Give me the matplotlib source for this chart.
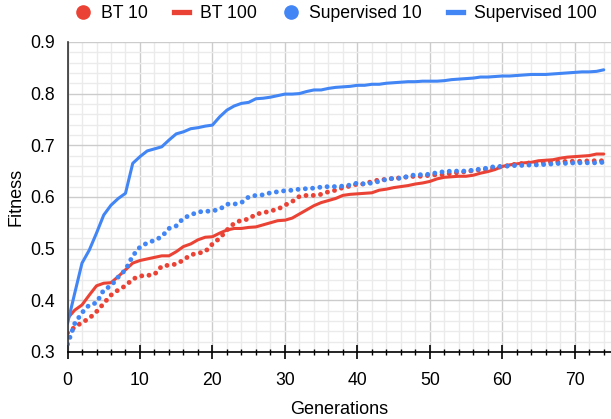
import matplotlib.pyplot as plt
import numpy as np
from matplotlib.lines import Line2D
from matplotlib.ticker import MultipleLocator

plt.rcParams['font.family'] = ['Liberation Sans', 'DejaVu Sans']

# Data (generations 0..74)
generations = np.arange(75)

bt_10 = [0.337, 0.348, 0.357, 0.365, 0.378, 0.394, 0.410, 0.420, 0.428, 0.441,
         0.447, 0.448, 0.450, 0.466, 0.468, 0.470, 0.478, 0.488, 0.491, 0.494,
         0.509, 0.520, 0.536, 0.549, 0.555, 0.557, 0.567, 0.569, 0.573, 0.576,
         0.584, 0.591, 0.601, 0.603, 0.603, 0.605, 0.610, 0.613, 0.618, 0.621,
         0.625, 0.625, 0.630, 0.633, 0.634, 0.636, 0.637, 0.639, 0.640, 0.640,
         0.642, 0.643, 0.643, 0.646, 0.647, 0.649, 0.651, 0.653, 0.654, 0.656,
         0.659, 0.661, 0.664, 0.665, 0.666, 0.667, 0.667, 0.668, 0.668, 0.669,
         0.669, 0.669, 0.670, 0.670, 0.670]

bt_100 = [0.365, 0.381, 0.391, 0.410, 0.428, 0.433, 0.434, 0.446, 0.459, 0.472,
          0.477, 0.480, 0.483, 0.486, 0.486, 0.494, 0.504, 0.509, 0.517, 0.522,
          0.523, 0.530, 0.536, 0.539, 0.539, 0.541, 0.542, 0.546, 0.550, 0.554,
          0.555, 0.559, 0.567, 0.575, 0.583, 0.589, 0.593, 0.597, 0.603, 0.605,
          0.606, 0.607, 0.608, 0.613, 0.615, 0.618, 0.620, 0.622, 0.625, 0.627,
          0.630, 0.635, 0.638, 0.639, 0.640, 0.640, 0.642, 0.646, 0.649, 0.653,
          0.659, 0.662, 0.664, 0.666, 0.667, 0.670, 0.671, 0.672, 0.675, 0.677,
          0.678, 0.679, 0.680, 0.683, 0.683]

sup_10 = [0.315, 0.355, 0.376, 0.391, 0.395, 0.420, 0.428, 0.445, 0.459, 0.486,
          0.503, 0.511, 0.516, 0.523, 0.539, 0.544, 0.559, 0.565, 0.571, 0.572,
          0.573, 0.576, 0.586, 0.586, 0.589, 0.600, 0.603, 0.604, 0.608, 0.610,
          0.612, 0.613, 0.615, 0.616, 0.617, 0.619, 0.620, 0.620, 0.621, 0.623,
          0.627, 0.625, 0.627, 0.630, 0.634, 0.636, 0.636, 0.640, 0.643, 0.643,
          0.644, 0.647, 0.649, 0.650, 0.650, 0.650, 0.652, 0.654, 0.656, 0.659,
          0.659, 0.660, 0.661, 0.661, 0.662, 0.662, 0.663, 0.664, 0.665, 0.665,
          0.666, 0.666, 0.666, 0.666, 0.667]

sup_100 = [0.355, 0.414, 0.472, 0.497, 0.530, 0.565, 0.584, 0.597, 0.607, 0.665,
           0.678, 0.689, 0.693, 0.697, 0.710, 0.722, 0.726, 0.732, 0.734, 0.737,
           0.739, 0.755, 0.768, 0.776, 0.781, 0.783, 0.790, 0.791, 0.793, 0.796,
           0.799, 0.799, 0.800, 0.804, 0.807, 0.807, 0.810, 0.812, 0.813, 0.814,
           0.816, 0.816, 0.818, 0.818, 0.820, 0.821, 0.822, 0.823, 0.823, 0.824,
           0.824, 0.824, 0.825, 0.827, 0.828, 0.829, 0.830, 0.832, 0.832, 0.833,
           0.834, 0.834, 0.835, 0.836, 0.837, 0.837, 0.837, 0.838, 0.839, 0.840,
           0.841, 0.842, 0.842, 0.843, 0.846]

labels = ['BT 10', 'BT 100', 'Supervised 10', 'Supervised 100']
RED = '#EA4335'
BLUE = '#4285F4'

fig = plt.figure(figsize=(6.11, 4.19), dpi=100)
ax = fig.add_axes([0.1105, 0.16, 0.8895, 0.74])

dotted = dict(lw=3.5, linestyle=(0, (0.01, 1.49)), dash_capstyle='round')
solid = dict(lw=2.2, solid_capstyle='round', solid_joinstyle='round')
ax.plot(generations, bt_10, color=RED, **dotted)
ax.plot(generations, bt_100, color=RED, **solid)
ax.plot(generations, sup_10, color=BLUE, **dotted)
ax.plot(generations, sup_100, color=BLUE, **solid)

ax.set_xlim(0, 75)
ax.set_ylim(0.3, 0.9)
ax.xaxis.set_major_locator(MultipleLocator(10))
ax.xaxis.set_minor_locator(MultipleLocator(2))
ax.yaxis.set_major_locator(MultipleLocator(0.1))
ax.yaxis.set_minor_locator(MultipleLocator(0.02))
ax.yaxis.set_major_formatter(plt.FuncFormatter(lambda v, p: f'{v:.1f}'))

ax.grid(which='major', color='#cccccc', lw=1.0)
ax.grid(which='minor', color='#ebebeb', lw=1.0)
ax.set_axisbelow(True)

for s in ['top', 'right']:
    ax.spines[s].set_visible(False)
ax.spines['bottom'].set_color('black')
ax.spines['bottom'].set_linewidth(1.2)
ax.spines['left'].set_color('#333333')
ax.spines['left'].set_linewidth(1.2)

ax.tick_params(axis='x', which='major', direction='inout', length=9.5, width=1.2,
               pad=10, labelsize=12.7, color='black')
ax.tick_params(axis='x', which='minor', direction='inout', length=5, width=1.0,
               color='black')
ax.tick_params(axis='y', which='both', length=0, pad=9, labelsize=12.7)

ax.set_xlabel('Generations', fontsize=13, labelpad=8)
ax.set_ylabel('Fitness', fontsize=13, labelpad=4)

handles = [
    Line2D([], [], color=RED, marker='o', linestyle='none', markersize=9.5),
    Line2D([], [], color=RED, lw=3.8),
    Line2D([], [], color=BLUE, marker='o', linestyle='none', markersize=9.5),
    Line2D([], [], color=BLUE, lw=3.8),
]
fig.legend(handles, labels, loc='center', bbox_to_anchor=(0.55, 0.968), ncol=4,
           frameon=False, fontsize=12.7, handlelength=0.85, handletextpad=0.6,
           columnspacing=1.5)

fig.savefig('out.png', dpi=100)
